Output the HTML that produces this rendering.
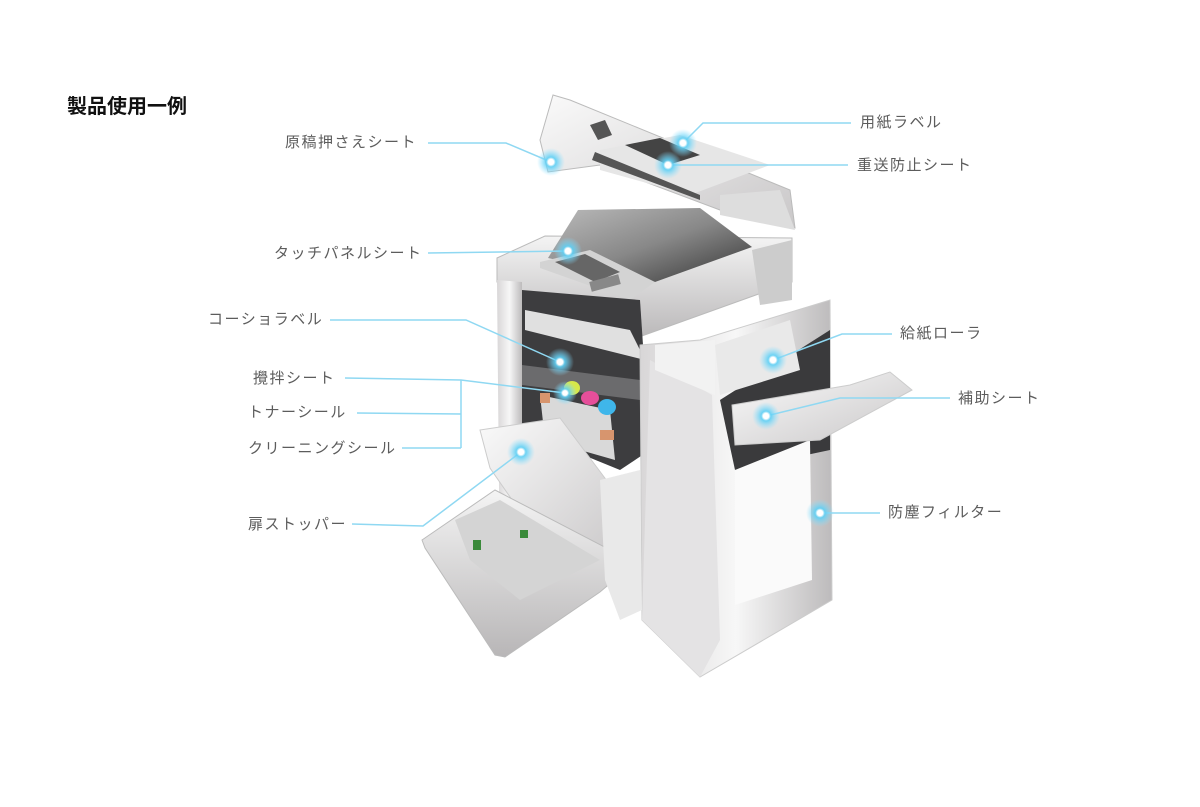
<!DOCTYPE html>
<html><head><meta charset="utf-8"><style>
html,body{margin:0;padding:0;background:#fff;}
svg{display:block}
text{font-family:"Liberation Sans","Noto Sans CJK JP",sans-serif;}
</style></head><body>
<svg width="1200" height="807" viewBox="0 0 1200 807" xmlns="http://www.w3.org/2000/svg">
<defs>
<linearGradient id="g1" x1="0" y1="0" x2="1" y2="1"><stop offset="0" stop-color="#fafafa"/><stop offset="1" stop-color="#c9c7c8"/></linearGradient>
<linearGradient id="g2" x1="0" y1="0" x2="1" y2="0"><stop offset="0" stop-color="#d8d6d7"/><stop offset="0.5" stop-color="#f7f7f7"/><stop offset="1" stop-color="#bdbbbc"/></linearGradient>
<linearGradient id="gl" x1="0" y1="0" x2="1" y2="1"><stop offset="0" stop-color="#bbb"/><stop offset="0.5" stop-color="#888"/><stop offset="1" stop-color="#333"/></linearGradient>
<linearGradient id="g3" x1="0" y1="0" x2="0" y2="1"><stop offset="0" stop-color="#f4f4f4"/><stop offset="1" stop-color="#b8b6b7"/></linearGradient>
<radialGradient id="glow"><stop offset="0" stop-color="#ffffff"/><stop offset="0.2" stop-color="#ffffff"/><stop offset="0.35" stop-color="#5fd0f5" stop-opacity="0.9"/><stop offset="1" stop-color="#8ee0ff" stop-opacity="0"/></radialGradient>
</defs>

<text x="67" y="113" font-size="20" font-weight="bold" fill="#111">製品使用一例</text>

<polygon points="553,95 570,100 790,190 795,228 720,210 600,165 548,172 540,140" fill="url(#g1)" stroke="#bbb" stroke-width="1"/>
<polygon points="600,150 680,135 770,165 690,195 600,170" fill="#e6e6e6"/>
<polygon points="595,152 700,195 700,200 592,160" fill="#555"/>
<polygon points="625,145 660,138 700,155 668,165" fill="#444"/>
<polygon points="590,125 605,120 612,135 598,140" fill="#555"/>
<polygon points="720,195 780,190 795,230 720,215" fill="#ddd"/>
<polygon points="497,258 545,236 792,238 792,282 625,342 497,282" fill="url(#g3)" stroke="#bbb"/>
<polygon points="578,210 700,208 752,247 655,282 548,258" fill="url(#gl)"/>
<polygon points="540,262 590,250 655,282 630,300 540,268" fill="#d3d3d3"/>
<polygon points="555,262 585,254 620,272 595,282" fill="#666"/>
<rect x="590" y="278" width="30" height="10" fill="#888" transform="rotate(-15 605 283)"/>
<polygon points="752,250 792,240 792,300 760,305" fill="#ccc"/>
<polygon points="497,280 522,282 522,610 500,590" fill="url(#g2)"/>
<polygon points="522,290 640,300 650,450 620,470 522,430" fill="#3d3d3f"/>
<polygon points="525,310 630,330 645,360 525,330" fill="#e0e0e0"/>
<polygon points="522,365 640,380 640,400 522,385" fill="#6b6b6d"/>
<polygon points="540,395 610,410 615,460 545,440" fill="#d9d9d9"/>
<ellipse cx="572" cy="388" rx="8" ry="7" fill="#d6e84a"/>
<ellipse cx="590" cy="398" rx="9" ry="7" fill="#e64f9a"/>
<ellipse cx="607" cy="407" rx="9" ry="8" fill="#3fb6ea"/>
<rect x="540" y="393" width="10" height="10" fill="#d7956e"/>
<rect x="600" y="430" width="14" height="10" fill="#d7956e"/>
<polygon points="640,345 700,340 830,300 832,600 700,677 642,620" fill="url(#g2)" stroke="#ccc"/>
<polygon points="720,400 830,330 830,450 735,470" fill="#3a3a3c"/>
<polygon points="715,345 790,320 800,370 720,395" fill="#e9e9e9"/>
<polygon points="735,470 810,440 812,580 735,605" fill="#fafafa"/>
<polygon points="650,360 712,395 720,640 700,677 642,620" fill="#e4e3e4"/>
<polygon points="655,345 715,340 715,395 655,370" fill="#f2f2f2"/>
<polygon points="732,405 850,385 890,372 912,390 820,440 735,445" fill="url(#g1)" stroke="#ccc"/>
<polygon points="480,430 560,418 625,505 617,555 555,562 490,468" fill="url(#g1)" stroke="#ccc"/>
<polygon points="422,540 495,490 620,555 620,575 600,592 505,657 495,655 425,548" fill="url(#g3)" stroke="#bbb"/>
<polygon points="455,520 500,500 600,560 520,600 470,560" fill="#d4d4d4"/>
<rect x="473" y="540" width="8" height="10" fill="#3a8a3a"/>
<rect x="520" y="530" width="8" height="8" fill="#3a8a3a"/>
<polygon points="600,480 640,470 642,610 620,620 605,580" fill="#e9e9e9"/>

<g fill="none" stroke="#8fd8f2" stroke-width="1.5">
<polyline points="428,143 506,143 551,162"/>
<polyline points="851,123 703,123 683,143"/>
<polyline points="848,165 668,165"/>
<polyline points="428,253 568,251"/>
<polyline points="330,320 466,320 560,362"/>
<polyline points="345,378 461,380 565,393"/>
<polyline points="461,380 461,448"/>
<polyline points="357,413 461,414"/>
<polyline points="402,448 461,448"/>
<polyline points="352,524 423,526 521,452"/>
<polyline points="892,334 842,334 773,360"/>
<polyline points="950,398 840,398 766,416"/>
<polyline points="880,513 820,513"/>
</g>
<g fill="url(#glow)">
<circle cx="551" cy="162" r="14"/>
<circle cx="683" cy="143" r="14"/>
<circle cx="668" cy="165" r="14"/>
<circle cx="568" cy="251" r="14"/>
<circle cx="560" cy="362" r="14"/>
<circle cx="565" cy="393" r="12"/>
<circle cx="521" cy="452" r="14"/>
<circle cx="773" cy="360" r="14"/>
<circle cx="766" cy="416" r="14"/>
<circle cx="820" cy="513" r="14"/>
</g>

<g font-size="15" fill="#5c5c5c" letter-spacing="1.5">
<text x="285" y="147">原稿押さえシート</text>
<text x="860" y="127">用紙ラベル</text>
<text x="857" y="170">重送防止シート</text>
<text x="274" y="258">タッチパネルシート</text>
<text x="208" y="324">コーショラベル</text>
<text x="253" y="383">攪拌シート</text>
<text x="248" y="417">トナーシール</text>
<text x="248" y="453">クリーニングシール</text>
<text x="248" y="529">扉ストッパー</text>
<text x="900" y="338">給紙ローラ</text>
<text x="958" y="403">補助シート</text>
<text x="888" y="517">防塵フィルター</text>
</g>
</svg>
</body></html>
